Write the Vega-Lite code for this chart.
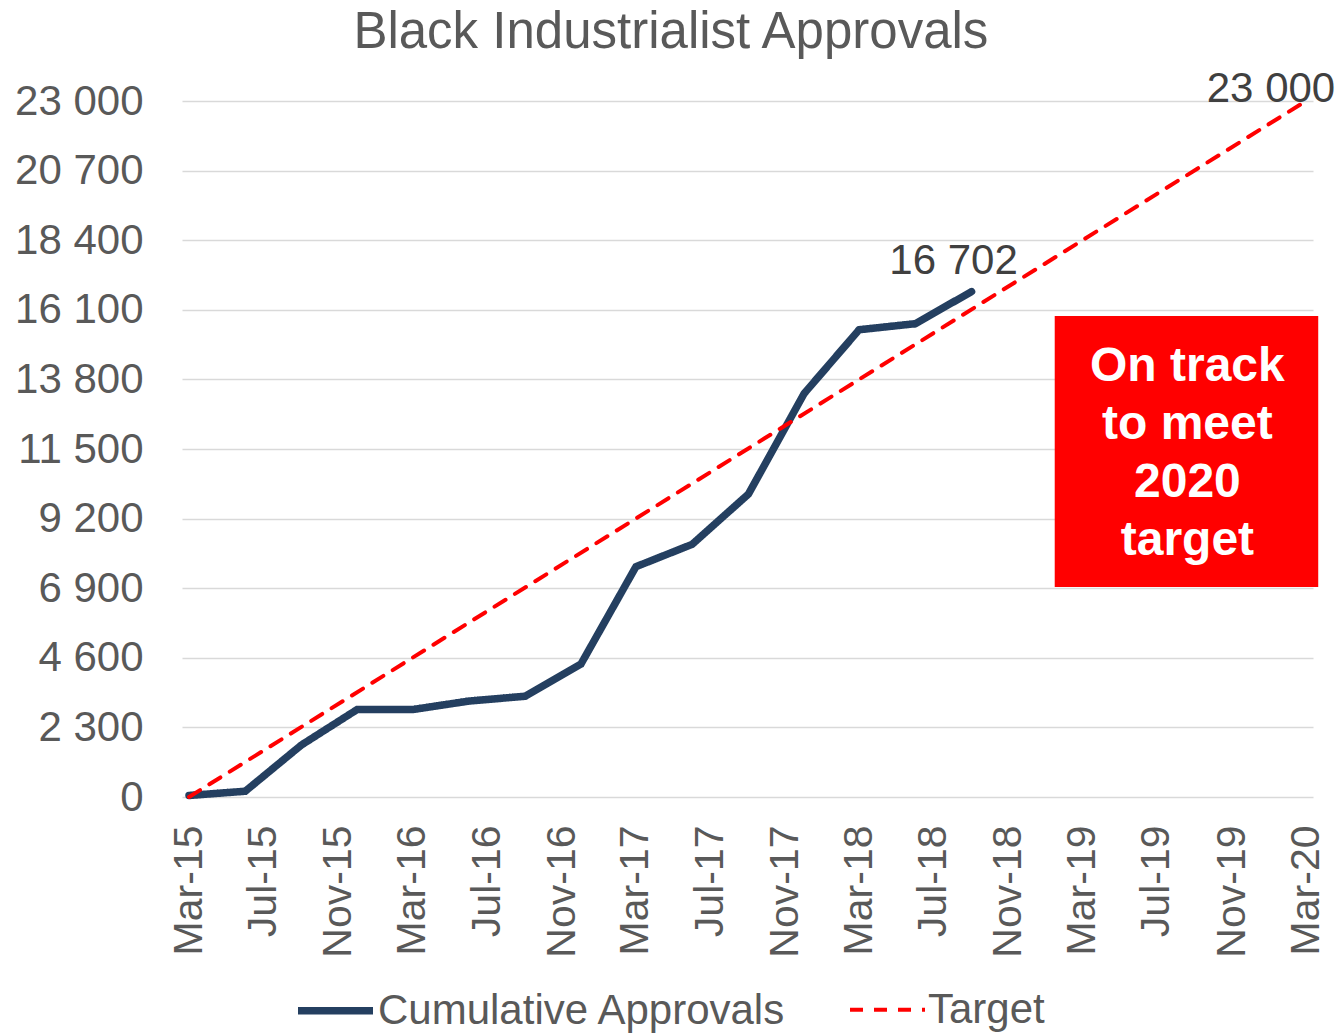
{
  "$schema": "https://vega.github.io/schema/vega-lite/v6.json",
  "autosize": "none",
  "width": 1131,
  "height": 696,
  "padding": {"left": 182, "top": 101, "right": 26, "bottom": 236},
  "background": "white",
  "config": {
    "view": {"stroke": null},
    "font": "Liberation Sans"
  },
  "title": {
    "text": "Black Industrialist Approvals",
    "fontSize": 51,
    "fontWeight": "normal",
    "color": "#595959",
    "font": "Liberation Sans",
    "anchor": "middle",
    "frame": "bounds",
    "baseline": "alphabetic",
    "offset": -31,
    "dx": -4
  },
  "datasets": {
    "lines": [
      {"date": "2015-03-01", "value": 50, "series": "Cumulative Approvals"},
      {"date": "2015-06-01", "value": 190, "series": "Cumulative Approvals"},
      {"date": "2015-09-01", "value": 1720, "series": "Cumulative Approvals"},
      {"date": "2015-12-01", "value": 2890, "series": "Cumulative Approvals"},
      {"date": "2016-03-01", "value": 2890, "series": "Cumulative Approvals"},
      {"date": "2016-06-01", "value": 3170, "series": "Cumulative Approvals"},
      {"date": "2016-09-01", "value": 3330, "series": "Cumulative Approvals"},
      {"date": "2016-12-01", "value": 4390, "series": "Cumulative Approvals"},
      {"date": "2017-03-01", "value": 7610, "series": "Cumulative Approvals"},
      {"date": "2017-06-01", "value": 8350, "series": "Cumulative Approvals"},
      {"date": "2017-09-01", "value": 10010, "series": "Cumulative Approvals"},
      {"date": "2017-12-01", "value": 13330, "series": "Cumulative Approvals"},
      {"date": "2018-03-01", "value": 15440, "series": "Cumulative Approvals"},
      {"date": "2018-06-01", "value": 15640, "series": "Cumulative Approvals"},
      {"date": "2018-09-01", "value": 16702, "series": "Cumulative Approvals"},
      {"date": "2015-03-01", "value": 0, "series": "Target"},
      {"date": "2020-03-01", "value": 23000, "series": "Target"}
    ]
  },
  "encoding": {
    "x": {
      "field": "date",
      "type": "temporal",
      "scale": {
        "type": "utc",
        "domain": [
          {"year": 2015, "month": 3, "date": 1, "utc": true},
          {"year": 2020, "month": 3, "date": 1, "utc": true}
        ],
        "padding": 7,
        "nice": false
      },
      "axis": {
        "title": null,
        "domain": false,
        "ticks": false,
        "grid": false,
        "labelAngle": 270,
        "labelFontSize": 41,
        "labelColor": "#595959",
        "labelPadding": 28,
        "labelOverlap": false,
        "labelFlush": false,
        "values": [
          {"year": 2015, "month": 3, "date": 1, "utc": true},
          {"year": 2015, "month": 7, "date": 1, "utc": true},
          {"year": 2015, "month": 11, "date": 1, "utc": true},
          {"year": 2016, "month": 3, "date": 1, "utc": true},
          {"year": 2016, "month": 7, "date": 1, "utc": true},
          {"year": 2016, "month": 11, "date": 1, "utc": true},
          {"year": 2017, "month": 3, "date": 1, "utc": true},
          {"year": 2017, "month": 7, "date": 1, "utc": true},
          {"year": 2017, "month": 11, "date": 1, "utc": true},
          {"year": 2018, "month": 3, "date": 1, "utc": true},
          {"year": 2018, "month": 7, "date": 1, "utc": true},
          {"year": 2018, "month": 11, "date": 1, "utc": true},
          {"year": 2019, "month": 3, "date": 1, "utc": true},
          {"year": 2019, "month": 7, "date": 1, "utc": true},
          {"year": 2019, "month": 11, "date": 1, "utc": true},
          {"year": 2020, "month": 3, "date": 1, "utc": true}
        ],
        "labelExpr": "utcFormat(datum.value, '%b-%y')"
      }
    },
    "y": {
      "field": "value",
      "type": "quantitative",
      "scale": {"domain": [0, 23000], "nice": false, "zero": true},
      "axis": {
        "title": null,
        "domain": false,
        "ticks": false,
        "grid": true,
        "gridColor": "#d9d9d9",
        "gridWidth": 1.5,
        "values": [0, 2300, 4600, 6900, 9200, 11500, 13800, 16100, 18400, 20700, 23000],
        "labelExpr": "replace(format(datum.value, ','), ',', ' ')",
        "labelFontSize": 42,
        "labelColor": "#595959",
        "labelPadding": 39
      }
    }
  },
  "layer": [
    {
      "data": {"name": "lines"},
      "mark": {"type": "line", "strokeCap": "round", "strokeJoin": "miter", "clip": false},
      "encoding": {
        "color": {
          "field": "series",
          "type": "nominal",
          "scale": {"domain": ["Cumulative Approvals", "Target"], "range": ["#243F60", "#FF0000"]},
          "legend": {
            "title": null,
            "orient": "none",
            "legendX": 112,
            "legendY": 868,
            "direction": "horizontal",
            "symbolType": "stroke",
            "symbolSize": 5625,
            "labelFontSize": 42,
            "labelColor": "#595959",
            "labelOffset": 1,
            "columnPadding": 55,
            "labelLimit": 600
          }
        },
        "strokeDash": {
          "field": "series",
          "type": "nominal",
          "scale": {"domain": ["Cumulative Approvals", "Target"], "range": [[1, 0], [13, 11]]},
          "legend": null
        },
        "strokeWidth": {
          "field": "series",
          "type": "nominal",
          "scale": {"domain": ["Cumulative Approvals", "Target"], "range": [7.5, 4]},
          "legend": null
        }
      }
    },
    {
      "data": {"values": [{"date": "2018-09-01", "value": 16702, "label": "16 702"}]},
      "mark": {"type": "text", "fontSize": 42, "color": "#404040", "align": "center", "baseline": "alphabetic", "dx": -18, "dy": -18},
      "encoding": {"text": {"field": "label"}}
    },
    {
      "data": {"values": [{"date": "2020-03-01", "value": 23000, "label": "23 000"}]},
      "mark": {"type": "text", "fontSize": 42, "color": "#404040", "align": "center", "baseline": "alphabetic", "dx": -35, "dy": 1},
      "encoding": {"text": {"field": "label"}}
    },
    {
      "data": {"values": [{"start": "2019-01-15", "end": "2020-03-21", "low": 6940, "high": 15895}]},
      "mark": {"type": "rect", "color": "#FF0000", "clip": false},
      "encoding": {
        "x": {"field": "start", "type": "temporal"},
        "x2": {"field": "end"},
        "y": {"field": "low", "type": "quantitative"},
        "y2": {"field": "high"}
      }
    },
    {
      "data": {"values": [{"date": "2019-08-20", "value": 14200, "label": "On track\nto meet\n2020\ntarget"}]},
      "mark": {"type": "text", "fontSize": 48, "fontWeight": "bold", "color": "white", "align": "center", "baseline": "middle", "lineBreak": "\n", "lineHeight": 58},
      "encoding": {"text": {"field": "label"}}
    }
  ]
}
